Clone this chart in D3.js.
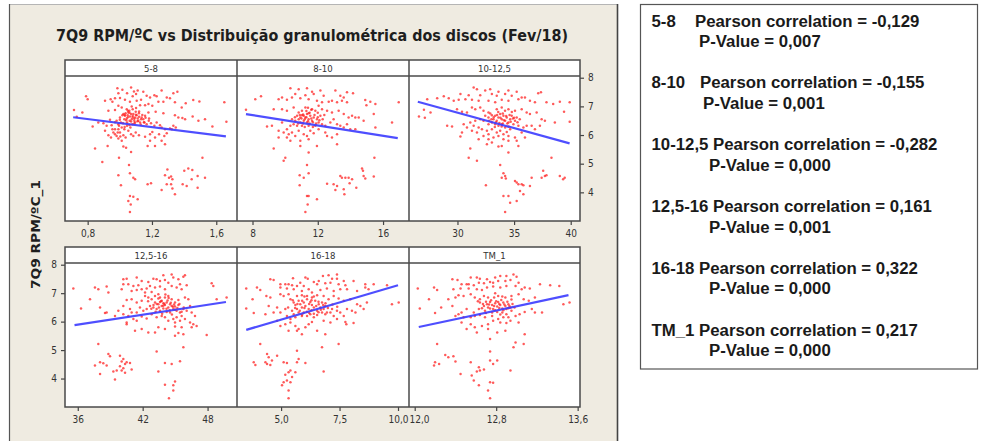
<!DOCTYPE html>
<html>
<head>
<meta charset="utf-8">
<script src="https://cdn.jsdelivr.net/npm/d3@7/dist/d3.min.js"></script>
<style>
  html, body { margin: 0; padding: 0; background: #ffffff; }
  svg { display: block; }
  .tick text { font-family: 'DejaVu Sans', sans-serif; font-stretch: condensed; font-size: 10px; fill: #333; }
  .tick line { stroke: #444; stroke-width: 1.2; }
  .strip { font-family: 'DejaVu Sans', sans-serif; font-stretch: condensed; font-size: 9.5px; fill: #333; }
  .stats { font-family: 'Liberation Sans', Arial, sans-serif; font-weight: bold; font-size: 16.8px; fill: #1a1a1a; }
</style>
</head>
<body>
<svg id="chart" width="981" height="441"></svg>
<script>
// ---- data ---------------------------------------------------------------
const panelNames = ["5-8", "8-10", "10-12,5", "12,5-16", "16-18", "TM_1"];

const xDomains = [[0.659, 1.729], [7.05, 17.59], [25.72, 40.82],
                  [34.82, 50.72], [3.115, 10.47], [11.944, 13.623]];
const yDomain = [3.0, 8.06];

const xTicks = [[0.8, 1.2, 1.6], [8, 12, 16], [30, 35, 40],
                [36, 42, 48], [5.0, 7.5, 10.0], [12.0, 12.8, 13.6]];
const xTickFormats = [".1f", "d", "d", "d", ".1f", ".1f"];
const yTicks = [4, 5, 6, 7, 8];

// fitted regression segments: [x start, y start, x end, y end]
const fitLines = [[0.71, 6.62, 1.66, 5.95], [7.6, 6.73, 16.9, 5.89], [26.5, 7.16, 39.9, 5.71],
                  [35.7, 5.88, 49.7, 6.69], [3.51, 5.71, 10.0, 7.28], [12.04, 5.81, 13.51, 6.93]];

const pearson = [-0.129, -0.155, -0.282, 0.161, 0.322, 0.217];
const pValues = [0.007, 0.001, 0.000, 0.001, 0.000, 0.000];

// 7Q9 RPM/ºC_1 against each size fraction
const pts58 = [[0.985,7.63],[1.016,7.58],[1.070,7.66],[1.088,7.52],[1.111,7.55],[1.146,7.51],[0.991,7.46],[1.045,7.46],[1.101,7.43],[1.260,7.55],[1.333,7.46],[1.358,7.51],[0.790,7.35],[0.800,7.25],[0.908,7.20],[0.943,7.25],[0.954,7.16],[0.970,7.28],[1.001,7.29],[1.032,7.23],[1.063,7.16],[1.080,7.35],[1.105,7.20],[1.132,7.23],[1.167,7.37],[1.188,7.31],[1.215,7.39],[1.229,7.35],[1.240,7.16],[1.271,7.16],[1.292,7.31],[1.312,7.28],[1.343,7.14],[1.385,6.96],[1.410,7.11],[1.457,7.22],[1.495,7.17],[1.650,7.14],[0.715,6.87],[0.767,6.79],[0.732,6.64],[0.929,6.85],[0.970,6.87],[0.991,7.02],[1.012,6.96],[1.043,6.90],[1.074,7.00],[1.101,6.94],[1.126,7.04],[1.157,7.04],[1.178,7.08],[1.202,7.02],[1.223,6.81],[1.271,6.76],[1.343,6.69],[1.364,6.61],[1.389,6.59],[1.406,6.55],[1.453,6.65],[1.489,6.50],[1.530,6.55],[1.576,6.30],[1.663,6.46],[0.831,6.30],[0.866,6.44],[0.898,6.41],[0.918,6.32],[0.939,6.53],[0.949,6.34],[0.980,6.50],[1.001,6.61],[1.016,6.69],[1.032,6.67],[1.043,6.58],[1.053,6.79],[1.063,6.65],[1.074,6.55],[1.084,6.73],[1.095,6.61],[1.105,6.69],[1.115,6.50],[1.126,6.44],[1.136,6.61],[1.153,6.44],[1.167,6.38],[1.182,6.58],[1.194,6.41],[1.215,6.32],[1.229,6.44],[1.250,6.34],[1.260,6.26],[1.281,6.20],[1.323,6.20],[1.333,6.32],[1.348,6.26],[0.908,6.15],[0.929,5.99],[0.945,5.91],[0.960,6.09],[0.970,6.20],[0.980,5.97],[0.991,5.88],[1.001,6.09],[1.012,5.80],[1.022,5.99],[1.036,5.91],[1.053,6.15],[1.070,6.03],[1.084,5.97],[1.099,6.09],[1.119,5.99],[1.157,5.94],[1.188,6.03],[1.202,6.11],[1.219,5.91],[1.244,6.03],[1.260,5.80],[1.277,5.97],[1.292,6.06],[1.312,6.23],[0.846,5.53],[0.924,5.62],[1.022,5.60],[1.039,5.56],[1.070,5.41],[1.173,5.62],[1.188,5.80],[1.219,5.62],[1.281,5.68],[0.891,5.06],[0.995,5.21],[1.057,4.95],[1.063,4.67],[0.991,4.60],[1.084,4.51],[1.095,4.46],[1.007,4.25],[1.173,4.28],[1.194,4.32],[1.281,4.60],[1.296,4.80],[1.306,4.51],[1.319,4.55],[1.327,4.46],[1.292,4.28],[1.319,4.28],[1.260,4.08],[1.327,4.13],[1.343,3.93],[1.401,4.75],[1.426,4.83],[1.451,4.78],[1.514,5.21],[1.484,4.57],[1.530,4.51],[1.447,4.46],[1.391,4.28],[1.416,4.22],[1.484,4.16],[1.063,3.87],[1.084,3.85],[1.053,3.70],[1.111,3.76],[1.068,3.58],[1.063,3.31],[1.022,6.73],[1.036,6.76],[1.049,6.69],[1.059,6.85],[1.070,6.73],[1.080,6.61],[1.090,6.50],[1.099,6.81],[1.111,6.58],[1.119,6.76],[1.132,6.55],[1.028,6.55],[1.045,6.44],[1.061,6.50],[1.078,6.38],[1.095,6.44],[1.007,6.44],[0.995,6.32],[1.012,6.26],[1.028,6.20],[1.045,6.32],[1.066,6.26],[0.991,6.20],[0.970,6.03],[0.954,6.20],[0.987,6.09],[1.003,5.95],[1.178,6.79],[1.157,6.67],[1.146,6.55],
  [1.03,6.71],[1.05,6.62],[1.06,6.78],[1.08,6.66],[1.09,6.57],[1.10,6.71],[1.12,6.64],[1.04,6.52],[1.07,6.47],[1.09,6.40],[1.11,6.48],[1.13,6.37],[1.02,6.41],[1.00,6.53],[1.06,6.35],[1.14,6.70],[1.16,6.60],[1.18,6.50],[1.05,6.85],[1.08,6.90],[0.99,6.38],[1.03,6.28],[0.97,6.45],[1.12,6.82],[1.15,6.45]];

const pts810 = [[10.32,7.63],[10.83,7.60],[11.34,7.63],[11.65,7.51],[12.16,7.55],[13.08,7.55],[13.79,7.49],[14.16,7.46],[10.62,7.43],[11.24,7.39],[11.75,7.43],[12.36,7.37],[13.38,7.37],[13.59,7.31],[8.17,7.25],[8.52,7.35],[9.60,7.25],[9.81,7.31],[10.11,7.23],[10.42,7.31],[10.93,7.28],[11.44,7.25],[11.95,7.20],[12.26,7.14],[12.67,7.16],[12.87,7.20],[13.18,7.14],[13.48,7.20],[13.79,7.14],[14.91,7.22],[15.22,7.16],[16.96,7.14],[15.53,7.08],[14.98,7.04],[7.60,6.88],[9.30,6.90],[9.81,6.90],[10.11,6.85],[10.52,6.96],[10.83,6.79],[11.03,6.85],[11.24,6.96],[11.44,6.76],[11.65,6.90],[11.85,6.85],[12.05,7.02],[12.26,6.90],[12.57,6.85],[12.87,6.79],[13.28,6.85],[13.59,6.73],[13.89,6.61],[14.10,6.67],[14.30,6.61],[14.51,6.61],[14.81,6.50],[15.43,6.73],[16.55,6.44],[15.53,6.26],[10.73,6.67],[10.93,6.61],[11.03,6.69],[11.14,6.67],[11.24,6.61],[11.34,6.73],[11.44,6.55],[11.54,6.67],[11.65,6.50],[11.75,6.61],[11.95,6.55],[12.05,6.44],[12.16,6.67],[11.14,6.50],[11.34,6.44],[10.93,6.44],[10.83,6.55],[10.62,6.50],[10.52,6.38],[10.42,6.55],[10.32,6.32],[10.73,6.32],[11.03,6.32],[11.44,6.32],[11.85,6.32],[12.26,6.38],[12.46,6.32],[12.77,6.44],[12.97,6.55],[13.18,6.38],[13.38,6.32],[13.59,6.26],[13.79,6.38],[13.99,6.20],[14.30,6.20],[9.81,6.44],[9.19,6.32],[8.89,6.30],[10.11,6.20],[9.60,6.15],[9.91,6.09],[10.22,6.03],[10.42,6.09],[10.62,5.97],[10.83,6.15],[11.14,6.03],[11.34,5.97],[11.54,6.15],[11.75,6.06],[12.05,6.20],[12.46,6.09],[12.57,5.97],[12.87,5.91],[13.18,6.03],[9.60,5.91],[10.11,5.91],[10.32,5.80],[10.93,5.80],[11.44,5.85],[11.95,5.62],[10.93,5.62],[13.18,5.68],[9.30,5.53],[10.01,5.21],[9.91,5.10],[11.44,5.39],[11.34,4.95],[10.89,4.60],[11.44,4.67],[11.14,4.51],[10.89,4.25],[12.57,4.30],[12.97,4.28],[13.18,4.22],[13.08,4.08],[13.38,4.57],[13.48,4.51],[13.69,4.51],[13.89,4.51],[13.59,4.11],[13.63,3.93],[13.95,4.32],[14.36,4.16],[14.10,4.46],[14.71,4.83],[14.77,4.75],[15.47,5.21],[14.81,4.57],[14.91,4.48],[15.43,4.55],[11.34,3.87],[11.44,3.87],[11.95,3.76],[11.38,3.58],[11.24,3.31],
  [11.1,6.72],[11.3,6.62],[11.5,6.78],[11.6,6.58],[11.8,6.70],[11.2,6.55],[11.4,6.48],[11.0,6.58],[10.9,6.70],[11.7,6.45],[12.0,6.62],[12.1,6.52],[11.3,6.84],[11.6,6.88],[10.8,6.40],[11.1,6.40],[11.5,6.40],[11.9,6.40],[12.3,6.55],[12.4,6.70],[10.6,6.62],[11.2,6.28],[11.7,6.28],[12.0,6.78],[11.4,6.95]];

const pts1012 = [[31.43,7.66],[31.72,7.60],[32.45,7.55],[32.89,7.60],[33.62,7.51],[34.50,7.55],[35.23,7.51],[37.13,7.46],[37.37,7.49],[30.26,7.43],[30.99,7.39],[32.01,7.39],[33.04,7.43],[33.47,7.37],[34.21,7.43],[34.79,7.37],[35.67,7.31],[35.96,7.31],[27.33,7.25],[28.21,7.28],[28.79,7.35],[29.23,7.28],[29.67,7.20],[30.11,7.23],[30.70,7.25],[31.28,7.23],[31.87,7.20],[32.74,7.20],[33.33,7.14],[33.91,7.23],[34.50,7.20],[35.38,7.25],[36.40,7.20],[36.84,7.14],[37.86,7.14],[38.45,7.08],[39.04,7.16],[39.91,7.14],[27.04,6.88],[27.62,6.79],[26.60,6.65],[27.12,6.60],[29.09,6.32],[29.52,6.30],[29.96,6.90],[30.40,6.81],[30.84,6.79],[31.28,6.96],[31.57,6.90],[32.01,6.96],[32.30,6.85],[32.74,6.79],[33.47,6.90],[33.91,6.96],[34.50,6.90],[35.08,6.85],[35.67,6.90],[36.11,6.79],[36.40,6.73],[36.99,6.79],[37.43,6.55],[37.72,6.50],[38.60,6.44],[39.41,6.81],[39.91,6.46],[32.45,6.67],[32.74,6.61],[33.04,6.69],[33.18,6.55],[33.33,6.67],[33.47,6.50],[33.62,6.61],[33.77,6.73],[33.91,6.55],[34.06,6.67],[34.21,6.50],[34.35,6.61],[34.50,6.44],[34.65,6.55],[34.79,6.67],[34.94,6.38],[35.08,6.50],[35.23,6.61],[35.38,6.32],[33.33,6.38],[33.62,6.32],[33.91,6.38],[34.21,6.26],[33.04,6.44],[32.74,6.38],[32.30,6.50],[32.01,6.55],[31.57,6.50],[31.43,6.32],[31.13,6.44],[30.84,6.26],[30.55,6.38],[31.87,6.26],[32.16,6.20],[32.60,6.15],[33.04,6.20],[33.47,6.09],[33.77,6.15],[34.06,6.03],[34.35,6.11],[34.65,6.20],[34.50,5.97],[34.06,5.85],[33.62,5.97],[33.18,5.91],[32.74,6.03],[32.30,5.97],[31.72,6.09],[31.28,6.15],[30.40,6.09],[30.26,5.95],[35.82,6.26],[36.11,6.32],[36.55,6.32],[36.84,6.20],[37.28,6.32],[35.67,6.09],[35.96,5.91],[35.23,5.80],[35.38,5.62],[34.50,5.80],[33.91,5.62],[33.62,5.60],[33.04,5.74],[32.74,5.85],[32.60,5.68],[31.87,5.85],[31.13,5.53],[30.99,5.21],[31.72,5.10],[34.50,5.39],[35.08,5.91],[38.30,5.21],[33.77,4.95],[34.06,4.67],[34.21,4.57],[33.91,4.51],[34.27,4.48],[32.51,4.25],[35.08,4.40],[35.23,4.34],[35.38,4.28],[35.67,4.28],[35.82,4.25],[35.52,4.05],[35.82,3.93],[36.40,4.22],[36.55,4.51],[37.57,4.75],[37.43,4.51],[37.72,4.57],[37.86,4.60],[39.04,4.57],[39.33,4.46],[39.47,4.51],[34.06,3.87],[34.50,3.87],[34.65,3.64],[35.23,3.70],[34.21,3.31],
  [33.2,6.62],[33.5,6.70],[33.8,6.60],[34.0,6.75],[34.3,6.66],[34.6,6.70],[34.9,6.58],[33.4,6.45],[33.7,6.42],[34.1,6.52],[34.4,6.40],[34.7,6.46],[35.0,6.60],[33.0,6.55],[32.8,6.50],[33.6,6.80],[34.2,6.85],[34.8,6.80],[35.3,6.45],[33.3,6.28],[33.9,6.30],[34.5,6.30],[32.9,6.75],[35.5,6.55],[34.0,6.40]];

const pts1216 = [[43.91,7.63],[44.68,7.66],[45.91,7.63],[44.83,7.55],[40.21,7.49],[40.52,7.51],[41.45,7.55],[42.99,7.51],[43.29,7.49],[44.06,7.46],[45.30,7.49],[45.76,7.58],[41.91,7.43],[42.52,7.39],[43.60,7.43],[44.37,7.37],[45.45,7.31],[48.38,7.35],[48.53,7.25],[35.59,7.16],[37.59,7.20],[37.90,7.14],[38.67,7.23],[38.83,7.02],[40.21,7.31],[40.67,7.31],[41.14,7.25],[41.60,7.28],[41.91,7.14],[42.37,7.16],[42.68,7.25],[43.14,7.20],[43.60,7.23],[44.06,7.14],[44.68,7.25],[45.14,7.20],[45.60,7.14],[46.07,7.28],[40.06,7.14],[40.98,7.08],[41.45,7.11],[42.22,7.02],[42.83,7.04],[43.45,6.96],[37.13,6.79],[36.30,6.46],[38.06,6.50],[38.67,6.32],[40.21,6.55],[40.52,6.76],[40.98,6.79],[41.45,6.67],[41.91,6.73],[42.22,6.90],[42.52,6.85],[42.83,6.79],[43.14,6.90],[43.45,6.81],[43.76,6.73],[44.06,6.85],[44.37,6.90],[44.68,6.79],[44.99,6.67],[45.30,6.76],[45.91,6.85],[46.22,6.79],[46.38,6.55],[48.84,6.79],[49.76,6.85],[43.14,6.67],[43.45,6.61],[43.60,6.69],[43.76,6.55],[43.91,6.65],[44.06,6.58],[44.22,6.67],[44.37,6.50],[44.53,6.61],[44.68,6.55],[44.83,6.44],[44.99,6.53],[45.14,6.38],[45.30,6.58],[42.99,6.50],[43.29,6.44],[43.60,6.38],[43.91,6.46],[44.22,6.34],[44.53,6.32],[42.68,6.55],[42.37,6.44],[42.06,6.38],[41.75,6.50],[41.45,6.32],[40.98,6.32],[40.67,6.20],[40.21,6.26],[39.75,6.38],[39.44,6.20],[40.83,6.44],[45.45,6.32],[45.76,6.44],[46.07,6.38],[46.53,6.32],[46.84,6.20],[45.60,6.20],[45.14,6.15],[44.83,6.09],[44.37,6.03],[44.06,6.15],[43.76,6.20],[43.29,6.15],[42.83,6.26],[42.37,6.11],[41.91,6.18],[41.45,6.03],[41.14,6.09],[40.52,5.97],[38.52,6.30],[44.99,5.97],[45.45,6.03],[45.91,6.09],[46.38,5.97],[46.68,5.91],[46.99,5.85],[46.53,5.80],[45.60,5.80],[44.99,5.83],[44.06,5.74],[43.45,5.80],[43.14,5.62],[42.52,5.62],[41.91,5.74],[41.29,5.68],[40.52,5.91],[45.30,5.60],[44.99,5.50],[45.76,5.56],[47.92,5.53],[37.90,5.21],[45.76,5.10],[43.29,4.95],[38.83,4.86],[38.98,4.78],[38.06,4.57],[38.36,4.54],[37.59,4.46],[38.67,4.46],[39.90,4.80],[40.21,4.69],[40.06,4.60],[40.37,4.51],[40.52,4.57],[40.83,4.55],[39.90,4.43],[40.21,4.36],[39.60,4.28],[40.06,4.28],[39.29,4.25],[40.98,4.32],[40.37,4.20],[38.06,4.16],[39.44,3.97],[44.06,4.55],[44.68,4.51],[45.45,4.61],[43.45,4.25],[44.99,3.90],[44.83,3.76],[44.06,3.78],[44.83,3.58],[44.43,3.31],
  [43.3,6.62],[43.7,6.72],[44.0,6.63],[44.3,6.74],[44.6,6.66],[44.9,6.60],[45.2,6.48],[43.5,6.50],[43.9,6.56],[44.2,6.45],[44.5,6.40],[44.8,6.52],[45.0,6.42],[43.0,6.58],[42.8,6.45],[43.6,6.85],[44.4,6.83],[45.4,6.62],[45.6,6.35],[43.2,6.35],[43.8,6.28],[44.7,6.25],[42.5,6.72],[45.8,6.50],[44.1,6.95]];

const pts1618 = [[4.54,7.49],[4.68,7.46],[5.51,7.52],[6.04,7.55],[6.14,7.51],[6.79,7.60],[7.03,7.63],[7.39,7.66],[7.18,7.51],[7.39,7.51],[7.68,7.43],[8.10,7.43],[6.61,7.43],[6.40,7.39],[5.82,7.37],[4.97,7.31],[5.18,7.31],[5.32,7.31],[5.47,7.28],[5.68,7.25],[5.97,7.25],[6.54,7.31],[6.89,7.35],[7.11,7.37],[7.46,7.31],[7.75,7.28],[8.60,7.31],[8.60,7.20],[8.96,7.31],[9.53,7.28],[3.51,7.16],[3.97,7.20],[4.11,7.11],[4.97,7.20],[5.25,7.16],[5.54,7.14],[5.89,7.08],[6.18,7.14],[6.32,7.02],[6.68,7.11],[6.96,7.16],[7.25,7.08],[7.53,7.14],[7.82,7.14],[8.25,7.08],[8.74,7.14],[3.78,6.79],[4.37,6.90],[4.54,6.85],[4.97,6.96],[5.11,6.90],[5.32,6.96],[5.68,6.90],[5.89,6.93],[6.11,6.90],[6.32,6.85],[6.54,6.93],[6.82,6.90],[7.03,6.79],[7.25,6.90],[7.46,6.81],[7.68,6.73],[7.96,6.79],[3.51,6.46],[3.83,6.30],[4.33,6.26],[4.47,6.55],[4.68,6.32],[4.83,6.50],[4.97,6.32],[5.18,6.44],[5.40,6.79],[5.54,6.67],[5.61,6.58],[5.75,6.73],[5.82,6.61],[5.89,6.50],[5.97,6.67],[6.04,6.55],[6.11,6.79],[6.18,6.44],[6.25,6.69],[6.32,6.58],[6.40,6.50],[6.46,6.73],[6.54,6.38],[6.61,6.61],[6.68,6.50],[6.75,6.67],[6.82,6.44],[6.89,6.55],[6.96,6.32],[5.68,6.44],[5.47,6.38],[5.54,6.26],[5.25,6.20],[5.40,6.09],[5.61,6.15],[5.75,6.32],[5.89,6.20],[5.97,6.32],[6.11,6.20],[6.25,6.26],[6.40,6.15],[6.54,6.23],[6.75,6.32],[6.89,6.26],[7.11,6.32],[7.18,6.44],[7.25,6.20],[7.39,6.38],[7.53,6.32],[7.68,6.20],[7.82,6.44],[8.03,6.38],[8.18,6.32],[8.25,6.61],[8.39,6.55],[8.53,6.44],[9.74,6.61],[10.03,6.67],[8.67,6.67],[4.83,6.03],[4.97,5.85],[5.18,5.91],[5.40,5.97],[5.61,5.85],[5.68,5.68],[5.89,5.56],[5.75,5.74],[6.04,5.80],[6.18,5.91],[6.32,5.99],[6.82,6.03],[7.11,5.97],[7.39,6.09],[7.75,5.99],[7.79,5.91],[8.10,5.95],[6.89,5.56],[6.54,5.68],[5.32,5.68],[7.46,5.21],[4.11,5.21],[5.68,4.98],[6.75,5.10],[4.40,4.86],[4.47,4.75],[4.61,4.63],[4.33,4.57],[4.40,4.51],[4.54,4.48],[3.83,4.57],[3.90,4.48],[4.83,4.80],[5.11,4.57],[5.25,4.55],[5.75,4.69],[5.68,4.57],[6.04,4.55],[5.40,4.28],[5.32,4.22],[5.18,4.13],[5.25,3.93],[5.47,4.05],[5.61,4.22],[5.11,3.87],[5.40,3.87],[5.04,3.76],[5.32,3.58],[5.32,3.31],[6.82,4.25],
  [5.7,6.62],[5.9,6.73],[6.0,6.48],[6.2,6.62],[6.3,6.75],[6.5,6.55],[6.6,6.70],[6.7,6.42],[6.9,6.65],[5.6,6.48],[5.8,6.38],[6.1,6.35],[6.4,6.28],[6.6,6.33],[6.8,6.58],[7.0,6.48],[7.2,6.60],[5.5,6.75],[6.0,6.88],[6.4,6.88],[5.9,6.25],[6.3,6.40],[7.4,6.52],[5.3,6.50],[6.2,6.30]];

const ptsTM = [[12.37,7.49],[12.42,7.46],[12.55,7.55],[12.61,7.55],[12.64,7.51],[12.71,7.49],[12.79,7.55],[12.84,7.60],[12.90,7.60],[12.97,7.66],[13.00,7.58],[12.46,7.31],[12.51,7.31],[12.53,7.31],[12.58,7.28],[12.63,7.37],[12.68,7.35],[12.74,7.39],[12.77,7.37],[12.82,7.43],[12.89,7.43],[12.94,7.46],[13.02,7.37],[13.08,7.20],[13.13,7.16],[13.23,7.31],[13.33,7.28],[13.42,7.25],[12.03,7.16],[12.19,7.20],[12.22,7.11],[12.38,7.14],[12.45,7.16],[12.53,7.16],[12.61,7.14],[12.66,7.11],[12.71,7.20],[12.77,7.23],[12.84,7.20],[12.90,7.25],[12.99,7.25],[13.05,7.14],[12.14,6.79],[12.26,6.50],[12.05,6.46],[12.20,6.30],[12.33,6.79],[12.40,6.85],[12.43,6.93],[12.48,6.90],[12.55,6.96],[12.59,6.85],[12.64,6.79],[12.68,6.90],[12.72,6.85],[12.79,7.00],[12.82,6.90],[12.89,6.85],[12.95,6.90],[13.02,6.96],[13.07,6.79],[13.12,6.73],[13.18,6.85],[12.64,6.67],[12.68,6.55],[12.71,6.61],[12.72,6.50],[12.74,6.69],[12.76,6.58],[12.77,6.44],[12.79,6.65],[12.81,6.53],[12.82,6.69],[12.84,6.58],[12.86,6.46],[12.87,6.67],[12.89,6.55],[12.90,6.44],[12.92,6.61],[12.94,6.50],[12.95,6.38],[12.69,6.38],[12.76,6.32],[12.81,6.34],[12.86,6.32],[12.90,6.26],[12.63,6.44],[12.58,6.32],[12.51,6.44],[12.46,6.32],[12.43,6.26],[12.37,6.55],[12.40,6.20],[12.48,6.15],[12.55,6.15],[12.59,6.20],[12.64,6.23],[12.69,6.15],[12.76,6.20],[12.82,6.09],[12.87,6.15],[12.92,6.15],[12.99,6.20],[13.03,6.26],[13.08,6.34],[13.15,6.44],[13.18,6.32],[13.25,6.32],[13.46,6.61],[13.52,6.67],[12.46,5.97],[12.55,5.91],[12.59,5.80],[12.66,5.85],[12.72,5.91],[12.77,6.03],[12.84,5.97],[12.90,5.95],[12.94,6.03],[13.02,5.97],[12.72,5.74],[12.81,5.62],[12.89,5.68],[12.61,5.62],[12.51,5.74],[13.08,5.56],[12.99,5.27],[13.07,5.21],[12.22,5.21],[12.74,5.39],[12.97,5.10],[12.74,4.95],[12.30,4.83],[12.33,4.75],[12.38,4.78],[12.20,4.57],[12.24,4.51],[12.19,4.46],[12.40,4.60],[12.55,4.57],[12.74,4.63],[12.81,4.63],[12.77,4.51],[12.94,4.28],[12.63,4.40],[12.64,4.28],[12.68,4.32],[12.61,4.25],[12.45,4.16],[12.56,4.11],[12.58,3.93],[12.74,3.87],[12.77,3.85],[12.63,3.76],[12.72,3.58],[12.74,3.31],
  [12.70,6.70],[12.73,6.60],[12.75,6.75],[12.78,6.55],[12.80,6.72],[12.83,6.62],[12.85,6.76],[12.88,6.60],[12.91,6.70],[12.93,6.55],[12.74,6.46],[12.79,6.40],[12.83,6.48],[12.87,6.40],[12.92,6.47],[12.96,6.62],[12.98,6.50],[12.67,6.62],[12.66,6.47],[12.78,6.85],[12.86,6.88],[12.70,6.30],[12.84,6.25],[12.95,6.78],[12.62,6.72]];

const panelPoints = [pts58, pts810, pts1012, pts1216, pts1618, ptsTM];

// ---- layout -------------------------------------------------------------
const svg = d3.select("#chart");
const colEdges = [65, 237, 409, 580];
const rows = [
  { stripTop: 60, plotTop: 76, plotBottom: 221 },
  { stripTop: 247, plotTop: 263, plotBottom: 407 }
];
const frameColor = "#4a4a4a";

// Portuguese number style: decimal comma, plain hyphen for negatives
const pt = d3.formatLocale({ decimal: ",", thousands: ".", grouping: [3], currency: ["R$", ""], minus: "-" });

// beige graph background
svg.append("rect").attr("x", 9).attr("y", 4).attr("width", 609).attr("height", 440).attr("fill", "#efebe1");
svg.append("line").attr("x1", 9).attr("x2", 618).attr("y1", 4.5).attr("y2", 4.5).attr("stroke", "#b5b5b5");
svg.append("line").attr("x1", 9.5).attr("x2", 9.5).attr("y1", 4).attr("y2", 441).attr("stroke", "#555").attr("stroke-width", 1.2);
svg.append("line").attr("x1", 617.5).attr("x2", 617.5).attr("y1", 4).attr("y2", 441).attr("stroke", "#444").attr("stroke-width", 1.6);

// title and y-axis label
svg.append("text")
  .attr("x", 312).attr("y", 41)
  .attr("text-anchor", "middle")
  .attr("textLength", 512).attr("lengthAdjust", "spacingAndGlyphs")
  .style("font-family", "'DejaVu Sans', sans-serif").style("font-weight", "bold")
  .style("font-size", "16.5px").style("fill", "#1e1e1e")
  .text("7Q9 RPM/ºC vs Distribuição granulométrica dos discos (Fev/18)");

svg.append("text")
  .attr("transform", "translate(39.5,234.5) rotate(-90)")
  .attr("text-anchor", "middle")
  .attr("textLength", 109).attr("lengthAdjust", "spacingAndGlyphs")
  .style("font-family", "'DejaVu Sans', sans-serif").style("font-weight", "bold")
  .style("font-size", "12.5px").style("fill", "#1e1e1e")
  .text("7Q9 RPM/ºC_1");

// panels
panelNames.forEach((name, i) => {
  const r = Math.floor(i / 3), c = i % 3;
  const row = rows[r];
  const x0 = colEdges[c], x1 = colEdges[c + 1];
  const g = svg.append("g");

  g.append("rect").attr("x", x0).attr("y", row.stripTop).attr("width", x1 - x0)
    .attr("height", row.plotBottom - row.stripTop).attr("fill", "#ffffff");

  const x = d3.scaleLinear().domain(xDomains[i]).range([x0, x1]);
  const y = d3.scaleLinear().domain(yDomain).range([row.plotBottom, row.plotTop]);

  // strip label
  g.append("text").attr("class", "strip")
    .attr("x", (x0 + x1) / 2).attr("y", (row.stripTop + row.plotTop) / 2 + 3.5)
    .attr("text-anchor", "middle").text(name);

  // scatter points
  g.append("g").selectAll("circle").data(panelPoints[i]).join("circle")
    .attr("cx", d => x(d[0])).attr("cy", d => y(d[1]))
    .attr("r", 1.25).attr("fill", "#ff1a1a").attr("fill-opacity", 0.72);

  // regression line
  const f = fitLines[i];
  g.append("line")
    .attr("x1", x(f[0])).attr("y1", y(f[1])).attr("x2", x(f[2])).attr("y2", y(f[3]))
    .attr("stroke", "#3b3bff").attr("stroke-width", 2.2).attr("stroke-opacity", 0.9);

  // x axis
  const xAxis = d3.axisBottom(x).tickValues(xTicks[i]).tickSize(4).tickPadding(5)
    .tickFormat(pt.format(xTickFormats[i]));
  const xg = g.append("g").attr("transform", `translate(0,${row.plotBottom})`).call(xAxis);
  xg.select(".domain").remove();

  // the two labels meeting at the 16-18 / TM_1 boundary sit edge to edge
  if (i === 4) {
    xg.selectAll(".tick text").filter((d, k, n) => k === n.length - 1)
      .attr("text-anchor", "end").attr("x", 408 - x(xTicks[i][2]));
  }
  if (i === 5) {
    xg.selectAll(".tick text").filter((d, k) => k === 0)
      .attr("text-anchor", "start").attr("x", 409 - x(xTicks[i][0]));
  }

  // y axis: right side on the top row, left side on the bottom row
  if (r === 0 && c === 2) {
    const yg = g.append("g").attr("transform", `translate(${x1},0)`)
      .call(d3.axisRight(y).tickValues(yTicks).tickSize(4).tickPadding(4).tickFormat(d3.format("d")));
    yg.select(".domain").remove();
  }
  if (r === 1 && c === 0) {
    const yg = g.append("g").attr("transform", `translate(${x0},0)`)
      .call(d3.axisLeft(y).tickValues(yTicks).tickSize(4).tickPadding(4).tickFormat(d3.format("d")));
    yg.select(".domain").remove();
  }
});

// panel frames
rows.forEach(row => {
  const fg = svg.append("g").attr("fill", "none").attr("stroke", frameColor).attr("stroke-width", 1.5);
  fg.append("rect").attr("x", colEdges[0]).attr("y", row.stripTop)
    .attr("width", colEdges[3] - colEdges[0]).attr("height", row.plotBottom - row.stripTop);
  fg.append("line").attr("x1", colEdges[0]).attr("x2", colEdges[3]).attr("y1", row.plotTop).attr("y2", row.plotTop);
  [colEdges[1], colEdges[2]].forEach(cx => {
    fg.append("line").attr("x1", cx).attr("x2", cx).attr("y1", row.stripTop).attr("y2", row.plotBottom);
  });
});

// correlation summary box
svg.append("rect").attr("x", 640.5).attr("y", 4.5).attr("width", 337).attr("height", 364.5)
  .attr("fill", "#ffffff").attr("stroke", "#555").attr("stroke-width", 1.2);

const statGap = 61.8;
const pearsonX = [695, 700, null, null, null, null];
const pValueX = [699, 703, 709, 709, 709, 709];
const fmt3 = pt.format(".3f");
panelNames.forEach((name, i) => {
  const base = 26.5 + i * statGap;
  const corr = "Pearson correlation = " + fmt3(pearson[i]);
  if (pearsonX[i] !== null) {
    svg.append("text").attr("class", "stats").attr("x", 651.5).attr("y", base).text(name);
    svg.append("text").attr("class", "stats").attr("x", pearsonX[i]).attr("y", base).text(corr);
  } else {
    svg.append("text").attr("class", "stats").attr("x", 651.5).attr("y", base).text(name + " " + corr);
  }
  svg.append("text").attr("class", "stats").attr("x", pValueX[i]).attr("y", base + 20.7)
    .text("P-Value = " + fmt3(pValues[i]));
});
</script>
</body>
</html>
